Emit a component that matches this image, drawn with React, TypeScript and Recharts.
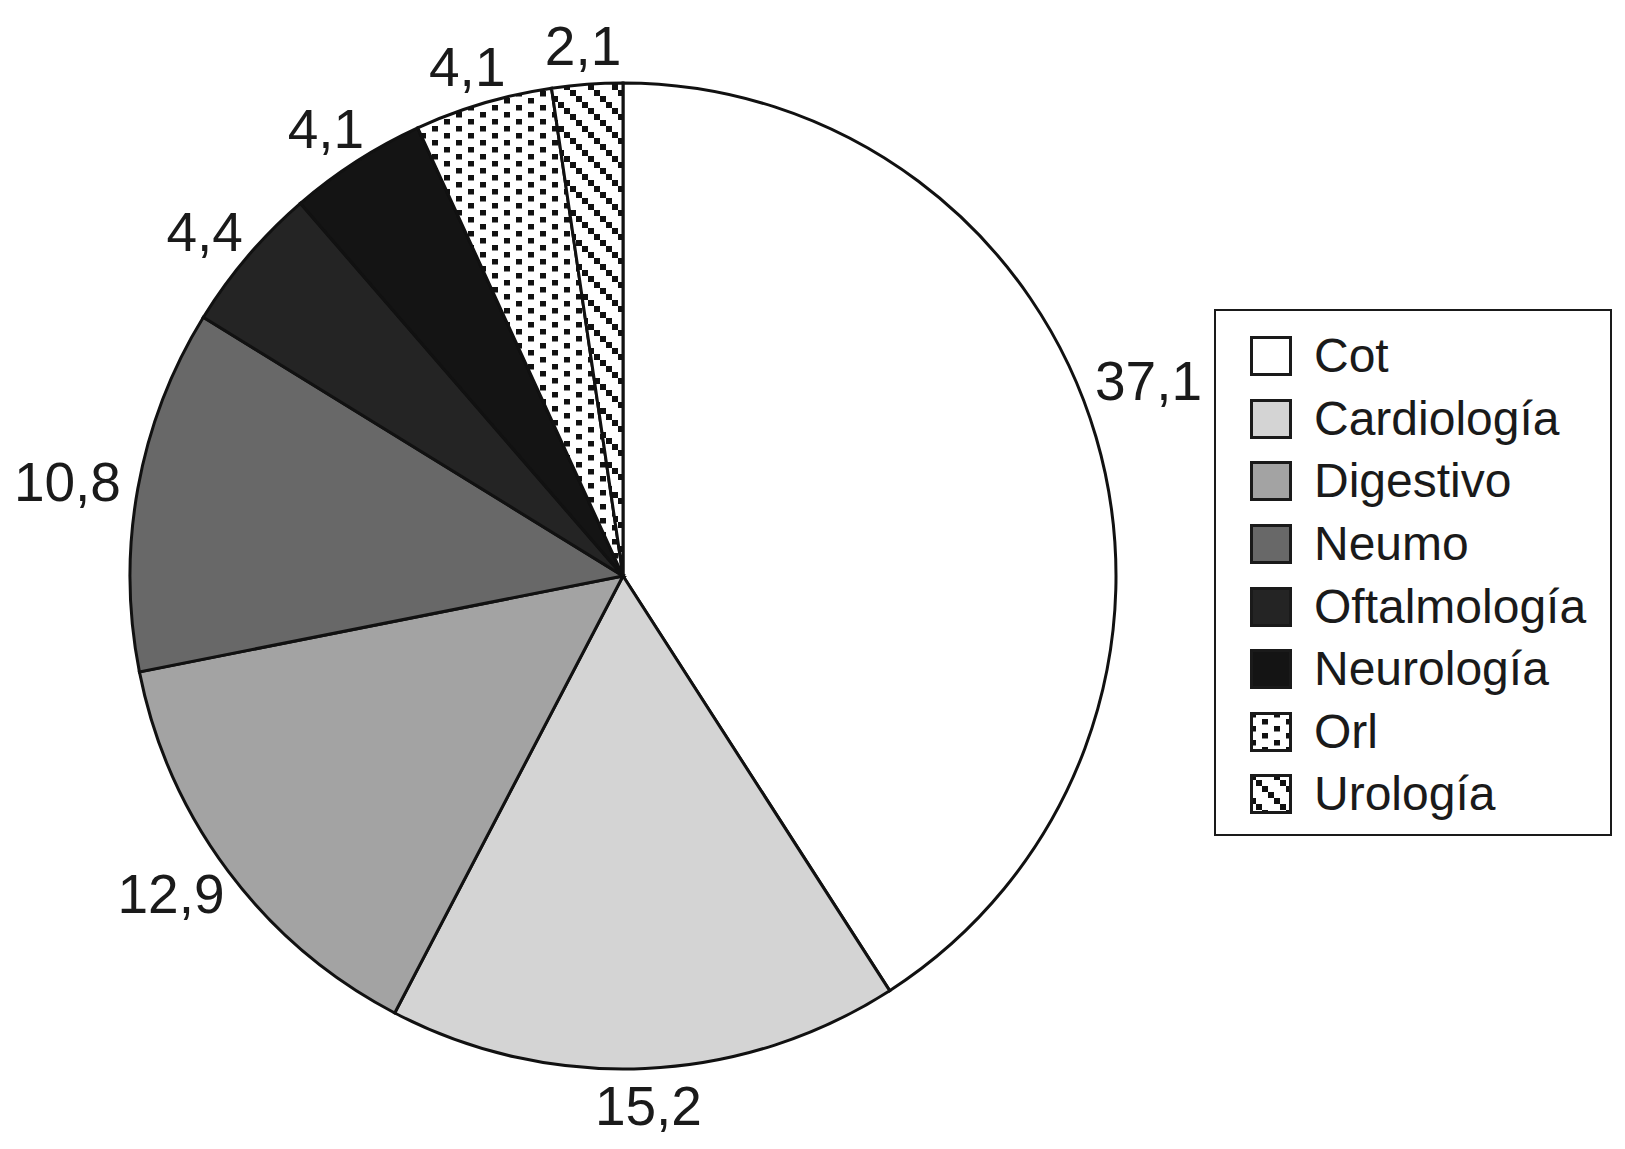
import { PieChart, Pie, Cell, Legend } from 'recharts';

const categories = ['Cot', 'Cardiología', 'Digestivo', 'Neumo', 'Oftalmología', 'Neurología', 'Orl', 'Urología'];
const values = [37.1, 15.2, 12.9, 10.8, 4.4, 4.1, 4.1, 2.1];
const fills = ['#ffffff', '#d4d4d4', '#a3a3a3', '#686868', '#242424', '#141414', 'url(#patOrl)', 'url(#patUro)'];

const data = categories.map((name, i) => ({ name, value: values[i] }));

const FONT = '"Liberation Sans", Arial, sans-serif';
const RAD = Math.PI / 180;
const LEGEND_LEFT = 1214;

function fmt(v: number) {
  return v.toFixed(1).replace('.', ',');
}

function textWidth(s: string, size: number) {
  let w = 0;
  for (const ch of s) w += ch === ',' ? 0.278 : 0.556;
  return w * size;
}

// label sits just outside the slice; kept clear of the legend box
const renderLabel = (props: any) => {
  const { cx, cy, midAngle, outerRadius, value } = props;
  const size = 55;
  const txt = fmt(value);
  const cos = Math.cos(-midAngle * RAD);
  const sin = Math.sin(-midAngle * RAD);
  const r = outerRadius + 18;
  const hw = textWidth(txt, size) / 2;
  const hh = 20;
  const x = Math.min(cx + r * cos + hw * cos, LEGEND_LEFT - 12 - hw);
  const y = cy + r * sin + hh * sin - (cos > 0.8 ? 45 : 0);
  return (
    <text x={x} y={y} fill="#1a1a1a" fontSize={size} fontFamily={FONT} textAnchor="middle" dominantBaseline="central">
      {txt}
    </text>
  );
};

const LegendBox = () => (
  <div
    style={{
      position: 'absolute',
      left: LEGEND_LEFT,
      top: 309,
      width: 398,
      height: 527,
      border: '2.5px solid #1a1a1a',
      background: '#fff',
      paddingTop: 14,
      boxSizing: 'border-box',
    }}
  >
    {categories.map((c, i) => (
      <div key={c} style={{ display: 'flex', alignItems: 'center', height: 62.6 }}>
        <svg width={42} height={40} style={{ marginLeft: 34, marginRight: 22, flexShrink: 0 }}>
          <rect x={1.5} y={1.5} width={39} height={37} fill={fills[i]} stroke="#1a1a1a" strokeWidth={3} />
        </svg>
        <span style={{ fontFamily: FONT, fontSize: 48, color: '#1a1a1a', lineHeight: 1, whiteSpace: 'nowrap' }}>{c}</span>
      </div>
    ))}
  </div>
);

export default function App() {
  return (
    <div style={{ width: 1625, height: 1149, position: 'relative', margin: -8 }}>
      <PieChart width={1625} height={1149}>
        <defs>
          <pattern id="patOrl" patternUnits="userSpaceOnUse" width={24} height={14}>
            <rect width={24} height={14} fill="#fff" />
            <rect x={0} y={0} width={6} height={5.5} fill="#111" />
            <rect x={12} y={7} width={6} height={5.5} fill="#111" />
          </pattern>
          <pattern id="patUro" patternUnits="userSpaceOnUse" width={24} height={24}>
            <rect width={24} height={24} fill="#fff" />
            <rect x={0} y={0} width={6} height={6} fill="#111" />
            <rect x={6} y={6} width={6} height={6} fill="#111" />
            <rect x={12} y={12} width={6} height={6} fill="#111" />
            <rect x={18} y={18} width={6} height={6} fill="#111" />
          </pattern>
        </defs>
        <Pie
          data={data}
          dataKey="value"
          nameKey="name"
          cx={618}
          cy={571}
          outerRadius={493}
          startAngle={90}
          endAngle={-270}
          stroke="#111"
          strokeWidth={3}
          label={renderLabel}
          labelLine={false}
          isAnimationActive={false}
        >
          {data.map((d, i) => (
            <Cell key={d.name} fill={fills[i]} />
          ))}
        </Pie>
        <Legend content={() => <LegendBox />} wrapperStyle={{ position: 'absolute', left: 0, top: 0, width: 0, height: 0 }} />
      </PieChart>
    </div>
  );
}
